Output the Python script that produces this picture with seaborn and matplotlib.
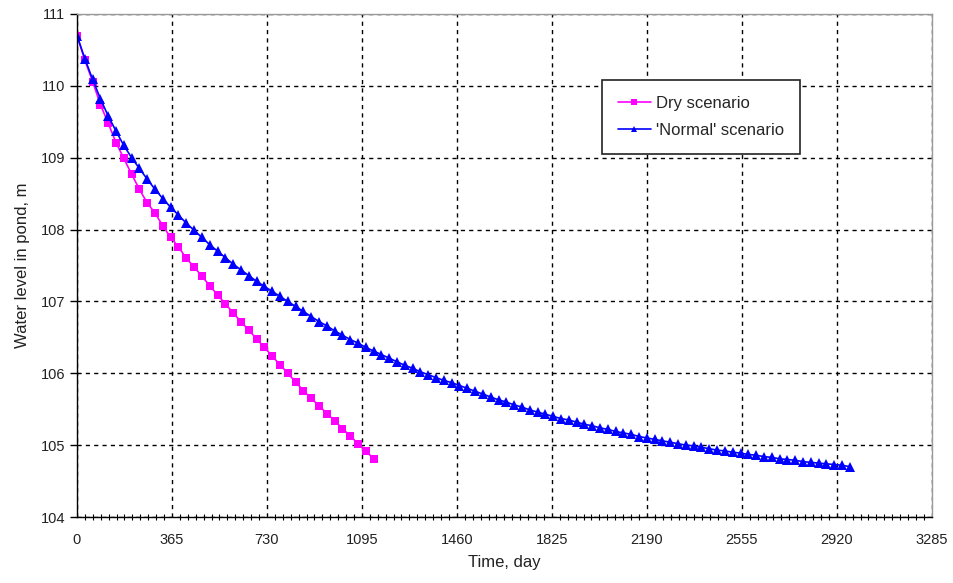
import numpy as np
import pandas as pd
import matplotlib
matplotlib.use("Agg")
import matplotlib.pyplot as plt
from matplotlib.ticker import MultipleLocator
import seaborn as sns

# Dry scenario: time (day) and water level (m)
dry_day = [0, 30, 60, 90, 120, 150, 180, 210, 240, 270, 300, 330, 360, 390, 420,
           450, 480, 510, 540, 570, 600, 630, 660, 690, 720, 750, 780, 810, 840,
           870, 900, 930, 960, 990, 1020, 1050, 1080, 1110, 1140]
dry_level = [110.70, 110.36, 110.06, 109.74, 109.48, 109.21, 108.99, 108.77, 108.56,
             108.37, 108.23, 108.05, 107.89, 107.76, 107.60, 107.48, 107.35, 107.22,
             107.09, 106.97, 106.84, 106.72, 106.60, 106.48, 106.36, 106.24, 106.12,
             106.00, 105.88, 105.76, 105.65, 105.55, 105.44, 105.34, 105.23, 105.13,
             105.02, 104.92, 104.81]

# 'Normal' scenario
normal_day = [0, 30, 60, 90, 120, 150, 180, 210, 240, 270, 300, 330, 360, 390, 420,
              450, 480, 510, 540, 570, 600, 630, 660, 690, 720, 750, 780, 810, 840,
              870, 900, 930, 960, 990, 1020, 1050, 1080, 1110, 1140, 1170, 1200, 1230,
              1260, 1290, 1320, 1350, 1380, 1410, 1440, 1470, 1500, 1530, 1560, 1590,
              1620, 1650, 1680, 1710, 1740, 1770, 1800, 1830, 1860, 1890, 1920, 1950,
              1980, 2010, 2040, 2070, 2100, 2130, 2160, 2190, 2220, 2250, 2280, 2310,
              2340, 2370, 2400, 2430, 2460, 2490, 2520, 2550, 2580, 2610, 2640, 2670,
              2700, 2730, 2760, 2790, 2820, 2850, 2880, 2910, 2940, 2970]
normal_level = [110.70, 110.38, 110.09, 109.82, 109.58, 109.37, 109.17, 109.00, 108.85,
                108.70, 108.56, 108.43, 108.31, 108.20, 108.09, 107.99, 107.89, 107.79,
                107.70, 107.61, 107.52, 107.44, 107.36, 107.28, 107.21, 107.14, 107.07,
                107.00, 106.93, 106.86, 106.79, 106.72, 106.66, 106.59, 106.53, 106.47,
                106.42, 106.36, 106.31, 106.26, 106.21, 106.16, 106.11, 106.07, 106.02,
                105.98, 105.94, 105.90, 105.87, 105.83, 105.79, 105.75, 105.71, 105.67,
                105.63, 105.60, 105.56, 105.53, 105.49, 105.46, 105.43, 105.40, 105.37,
                105.35, 105.32, 105.29, 105.27, 105.24, 105.22, 105.19, 105.17, 105.15,
                105.12, 105.10, 105.08, 105.06, 105.04, 105.02, 105.00, 104.99, 104.97,
                104.95, 104.93, 104.92, 104.90, 104.89, 104.87, 104.86, 104.84, 104.83,
                104.81, 104.80, 104.79, 104.77, 104.76, 104.75, 104.74, 104.73, 104.72,
                104.70]

sns.set_style("white")
plt.rcParams['font.family'] = ['Liberation Sans', 'DejaVu Sans']

df_dry = pd.DataFrame({'day': dry_day, 'level': dry_level})
df_normal = pd.DataFrame({'day': normal_day, 'level': normal_level})

fig = plt.figure(figsize=(9.54, 5.83), dpi=100)
ax = fig.add_axes([0.0807, 0.1132, 0.896, 0.8628])

sns.lineplot(data=df_dry, x='day', y='level', ax=ax, color='#FF00FF', marker='s',
             markersize=5.5, markeredgewidth=0, linewidth=1.2, label='Dry scenario')
sns.lineplot(data=df_normal, x='day', y='level', ax=ax, color='#0000FF', marker='^',
             markersize=7, markeredgewidth=0, linewidth=1.2, label="'Normal' scenario")

ax.set_xlim(0, 3285)
ax.set_ylim(104, 111)
ax.xaxis.set_major_locator(MultipleLocator(365))
ax.xaxis.set_minor_locator(MultipleLocator(365 / 12))
ax.yaxis.set_major_locator(MultipleLocator(1))

ax.grid(True, which='major', color='black', linestyle=(0, (3, 3)), linewidth=1)
ax.set_axisbelow(True)

for side in ['top', 'right']:
    ax.spines[side].set_color('#999999')
    ax.spines[side].set_linewidth(1)
for side in ['left', 'bottom']:
    ax.spines[side].set_color('black')
    ax.spines[side].set_linewidth(1)

ax.tick_params(axis='x', which='major', direction='inout', length=7, width=1,
               color='black', labelsize=10.5, pad=8, labelcolor='#222222')
ax.tick_params(axis='x', which='minor', direction='inout', length=5, width=0.8,
               color='black', bottom=True)
ax.tick_params(axis='y', which='major', direction='out', length=5, width=1,
               color='black', labelsize=10.5, left=True, labelcolor='#222222')

ax.set_xlabel('Time, day', fontsize=12, labelpad=6, color='#222222')
ax.set_ylabel('Water level in pond, m', fontsize=12, labelpad=8, color='#222222')

leg = ax.legend(loc='upper left', bbox_to_anchor=(0.614, 0.869), frameon=True,
                fancybox=False, shadow=False, fontsize=12, handlelength=2.0,
                borderpad=0.95, labelspacing=0.75, handletextpad=0.3,
                borderaxespad=0, markerscale=0.7)
leg.get_frame().set_edgecolor('#222222')
leg.get_frame().set_linewidth(1.2)
leg.get_frame().set_alpha(1)

fig.savefig('out.png', dpi=100)
